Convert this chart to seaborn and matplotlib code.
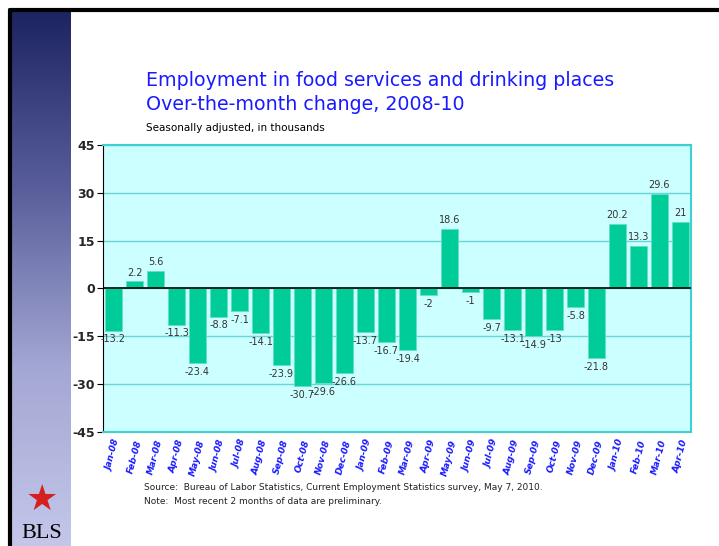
import matplotlib.pyplot as plt
import numpy as np
import pandas as pd
import seaborn as sns

months = ["Jan-08", "Feb-08", "Mar-08", "Apr-08", "May-08", "Jun-08", "Jul-08",
          "Aug-08", "Sep-08", "Oct-08", "Nov-08", "Dec-08", "Jan-09", "Feb-09",
          "Mar-09", "Apr-09", "May-09", "Jun-09", "Jul-09", "Aug-09", "Sep-09",
          "Oct-09", "Nov-09", "Dec-09", "Jan-10", "Feb-10", "Mar-10", "Apr-10"]
change = [-13.2, 2.2, 5.6, -11.3, -23.4, -8.8, -7.1, -14.1, -23.9, -30.7, -29.6,
          -26.6, -13.7, -16.7, -19.4, -2, 18.6, -1, -9.7, -13.1, -14.9, -13,
          -5.8, -21.8, 20.2, 13.3, 29.6, 21]
yticks = [-45, -30, -15, 0, 15, 30, 45]


def main() -> None:
    df = pd.DataFrame({"month": months, "change": change})

    sns.set_style("white")
    plt.rcParams["font.family"] = ["DejaVu Sans"]
    fig = plt.figure(figsize=(7.19, 5.46), dpi=100)

    # slide decoration: left gradient bar and black border
    side = fig.add_axes([12 / 719, 0, 59 / 719, 1 - 12 / 546])
    grad = np.linspace(0, 1, 256).reshape(-1, 1)
    side.imshow(grad, aspect="auto", cmap=plt.matplotlib.colors.LinearSegmentedColormap.from_list(
        "bls", ["#1c2461", "#5a5f9c", "#a3a7d3", "#c4c7ea"]))
    side.axis("off")
    fig.add_artist(plt.Line2D([10 / 719, 1], [1 - 10 / 546] * 2, color="black", lw=3))
    fig.add_artist(plt.Line2D([10 / 719] * 2, [0, 1 - 10 / 546], color="black", lw=3))

    # logo
    fig.text(42 / 719, 1 - 500 / 546, "\u2605", color="#d62020", fontsize=26,
             ha="center", va="center", family=["DejaVu Sans"])
    fig.text(42 / 719, 1 - 534 / 546, "BLS", color="black", fontsize=16,
             ha="center", va="center", family="Liberation Serif")

    ax = fig.add_axes([103 / 719, 1 - 432 / 546, 588 / 719, 287 / 546])
    ax.set_facecolor("#ccffff")
    sns.barplot(data=df, x="month", y="change", color="#00cc99", saturation=1,
                width=0.82, edgecolor="#66e0c0", linewidth=0.6, ax=ax, zorder=3)

    ax.set_ylim(-45, 45)
    ax.set_yticks(yticks)
    ax.set_yticklabels([str(t) for t in yticks], fontweight="bold", fontsize=9)
    ax.yaxis.grid(True, color="#66d6d6", lw=1, zorder=0)
    ax.axhline(0, color="black", lw=1.2, zorder=4)
    ax.tick_params(axis="y", length=4, color="black", left=True, pad=2)
    ax.tick_params(axis="x", length=0, pad=5)
    ax.set_xlim(-0.5, len(months) - 0.5)
    for s in ["top", "right", "bottom"]:
        ax.spines[s].set_color("#40d0d0")
        ax.spines[s].set_linewidth(1.5)
    ax.spines["left"].set_color("black")
    ax.set_xlabel("")
    ax.set_ylabel("")
    ax.set_xticks(range(len(months)))
    ax.set_xticklabels(months, rotation=75, ha="right", rotation_mode="anchor",
                       color="#1a1aff", fontsize=6.5, fontweight="bold", fontstyle="italic")

    for i, v in enumerate(change):
        off = 1.2 if v >= 0 else -1.2
        ax.text(i, v + off, f"{v:g}", ha="center", va="bottom" if v >= 0 else "top",
                fontsize=7, color="#333333", zorder=5)

    fig.text(146 / 719, 1 - 80 / 546, "Employment in food services and drinking places",
             color="#1a1aff", fontsize=13.7, va="center")
    fig.text(146 / 719, 1 - 104 / 546, "Over-the-month change, 2008-10",
             color="#1a1aff", fontsize=13.7, va="center")
    fig.text(146 / 719, 1 - 128 / 546, "Seasonally adjusted, in thousands",
             color="black", fontsize=7.5, va="center")
    fig.text(144 / 719, 1 - 487 / 546,
             "Source:  Bureau of Labor Statistics, Current Employment Statistics survey, May 7, 2010.",
             color="#222222", fontsize=6.5, va="center")
    fig.text(144 / 719, 1 - 502 / 546, "Note:  Most recent 2 months of data are preliminary.",
             color="#222222", fontsize=6.5, va="center")

    fig.savefig("out.png", dpi=100)


if __name__ == "__main__":
    main()
